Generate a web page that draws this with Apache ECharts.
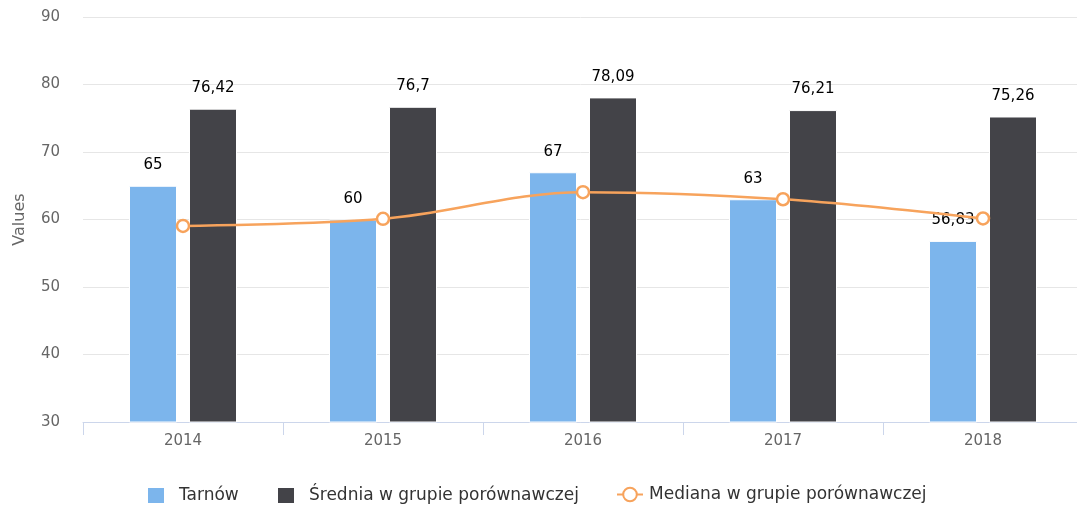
<!DOCTYPE html>
<html>
<head>
<meta charset="utf-8">
<script src="https://cdn.jsdelivr.net/npm/echarts@6/dist/echarts.min.js"></script>
<style>
  html, body { margin: 0; padding: 0; background: #fff; }
  #chart_view { width: 1077px; height: 508px; }
</style>
</head>
<body>
<div id="chart_view"></div>
<script>
var years = ['2014', '2015', '2016', '2017', '2018'];
var tarnow = [65, 60, 67, 63, 56.83];
var srednia = [76.42, 76.7, 78.09, 76.21, 75.26];
var mediana = [59.05, 60.1, 64.05, 63, 60.15];
var yTicks = [30, 40, 50, 60, 70, 80, 90];

var FONT = 'DejaVu Sans';

function plNum(v) {
    return String(v).replace('.', ',');
}

var myChart = echarts.init(document.getElementById('chart_view'));

var labelStyle = {
    show: true,
    position: 'top',
    distance: 13,
    color: '#000',
    fontSize: 15,
    fontFamily: FONT,
    formatter: function (p) { return plNum(p.value); }
};

// one legend per item so each sits where the reference has it
function legendItem(name, left, icon, w) {
    return {
        left: left,
        top: 481,
        itemWidth: w,
        itemHeight: 17,
        data: [icon ? { name: name, icon: icon } : { name: name }],
        textStyle: {
            fontSize: 17,
            color: '#333',
            fontFamily: FONT,
            padding: icon ? [0, 0, 0, 9] : [0, 0, 0, 1]
        }
    };
}

var option = {
    animation: false,
    textStyle: { fontFamily: FONT },
    grid: { left: 83, right: -6, top: 17, bottom: 86, outerBoundsMode: 'none' },
    legend: [
        legendItem('Tarnów', 141, 'rect', 18),
        legendItem('Średnia w grupie porównawczej', 271, 'rect', 18),
        legendItem('Mediana w grupie porównawczej', 611, null, 26)
    ],
    xAxis: {
        type: 'category',
        data: years,
        axisLine: { lineStyle: { color: '#ccd6eb' } },
        axisTick: { show: true, length: 13, lineStyle: { color: '#ccd6eb' } },
        axisLabel: { color: '#666', fontSize: 15, margin: 12, fontFamily: FONT }
    },
    yAxis: {
        type: 'value',
        min: yTicks[0],
        max: yTicks[yTicks.length - 1],
        interval: 10,
        name: 'Values',
        nameLocation: 'middle',
        nameGap: 55,
        nameTextStyle: { color: '#666', fontSize: 16, fontFamily: FONT },
        axisLine: { show: false },
        axisTick: { show: false },
        axisLabel: { color: '#666', fontSize: 15, margin: 23, fontFamily: FONT },
        splitLine: { lineStyle: { color: '#e6e6e6' } }
    },
    series: [
        {
            name: 'Tarnów',
            type: 'bar',
            data: tarnow,
            barWidth: 48,
            barGap: '25%',
            itemStyle: { color: '#7cb5ec', borderColor: '#fff', borderWidth: 1 },
            label: labelStyle
        },
        {
            name: 'Średnia w grupie porównawczej',
            type: 'bar',
            data: srednia,
            barWidth: 48,
            itemStyle: { color: '#434348', borderColor: '#fff', borderWidth: 1 },
            label: labelStyle
        },
        {
            name: 'Mediana w grupie porównawczej',
            type: 'line',
            data: mediana,
            smooth: 0.35,
            symbol: 'circle',
            symbolSize: 12,
            z: 3,
            lineStyle: { color: '#f7a35c', width: 2.5 },
            itemStyle: { color: '#fff', borderColor: '#f7a35c', borderWidth: 2.5 }
        }
    ]
};

myChart.setOption(option);
</script>
</body>
</html>
